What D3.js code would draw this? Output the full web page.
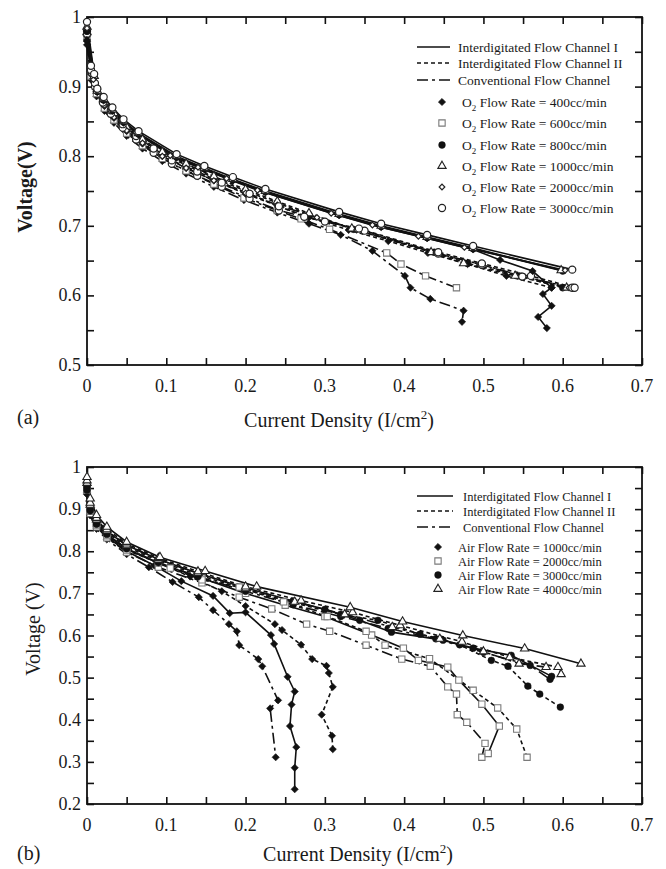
<!DOCTYPE html>
<html><head><meta charset="utf-8">
<script src="https://cdn.jsdelivr.net/npm/d3@7"></script>
<style>
html,body{margin:0;padding:0;background:#fff;}
svg{display:block;}
text{font-family:'Liberation Serif','Times New Roman',serif;fill:#1a1a1a;}
</style></head><body>
<svg id="chart" width="666" height="869"></svg>
<script>
// ---- tick labels ----
const xTickLabels = ["0","0.1","0.2","0.3","0.4","0.5","0.6","0.7"];
const yTickLabelsA = ["0.5","0.6","0.7","0.8","0.9","1"];
const yTickLabelsB = ["0.2","0.3","0.4","0.5","0.6","0.7","0.8","0.9","1"];

// ---- legend entries ----
const channels = ["Interdigitated Flow Channel I","Interdigitated Flow Channel II","Conventional Flow Channel"];
const o2Rates = [400, 600, 800, 1000, 2000, 3000];
const airRates = [1000, 2000, 3000, 4000];

// ---- (a) O2 cathode feed: [current density, voltage] ----
const a_I1_400  = [[0.000,0.967],[0.009,0.913],[0.013,0.892],[0.021,0.880],[0.032,0.865],[0.046,0.848],[0.065,0.831],[0.113,0.798],[0.148,0.781],[0.184,0.765],[0.225,0.748],[0.318,0.715],[0.371,0.698],[0.429,0.682],[0.487,0.666],[0.521,0.651],[0.562,0.635],[0.586,0.611],[0.575,0.602],[0.586,0.585],[0.569,0.569],[0.580,0.553]];
const a_I1_800  = [[0.000,0.980],[0.009,0.914],[0.013,0.893],[0.021,0.881],[0.032,0.866],[0.046,0.849],[0.065,0.832],[0.113,0.799],[0.148,0.782],[0.184,0.766],[0.225,0.749],[0.318,0.716],[0.371,0.699],[0.429,0.683],[0.487,0.667],[0.600,0.635]];
const a_I1_1000 = [[0.000,0.986],[0.009,0.915],[0.013,0.894],[0.021,0.882],[0.032,0.867],[0.046,0.850],[0.065,0.833],[0.113,0.800],[0.148,0.783],[0.184,0.767],[0.225,0.750],[0.318,0.717],[0.371,0.700],[0.429,0.684],[0.487,0.668],[0.598,0.636]];
const a_I1_2000 = [[0.000,0.984],[0.008,0.910],[0.012,0.895],[0.019,0.883],[0.030,0.868],[0.044,0.851],[0.062,0.834],[0.105,0.801],[0.140,0.784],[0.176,0.768],[0.215,0.751],[0.308,0.718],[0.360,0.701],[0.418,0.685],[0.476,0.669],[0.603,0.636]];
const a_I1_3000 = [[0.000,0.993],[0.009,0.918],[0.013,0.897],[0.021,0.885],[0.032,0.870],[0.046,0.853],[0.065,0.836],[0.113,0.803],[0.148,0.786],[0.184,0.770],[0.225,0.753],[0.318,0.720],[0.371,0.703],[0.429,0.687],[0.487,0.671],[0.612,0.637]];
const a_I2_400  = [[0.000,0.965],[0.005,0.918],[0.012,0.893],[0.022,0.872],[0.034,0.855],[0.050,0.836],[0.070,0.818],[0.095,0.800],[0.125,0.783],[0.160,0.765],[0.200,0.746],[0.240,0.729],[0.280,0.712],[0.330,0.694],[0.380,0.678],[0.430,0.661],[0.480,0.645],[0.529,0.628],[0.586,0.611]];
const a_I2_800  = [[0.000,0.975],[0.005,0.922],[0.012,0.897],[0.022,0.876],[0.034,0.859],[0.050,0.840],[0.070,0.822],[0.095,0.804],[0.125,0.787],[0.160,0.769],[0.200,0.750],[0.240,0.733],[0.280,0.716],[0.336,0.695],[0.438,0.662],[0.480,0.646],[0.545,0.628],[0.600,0.611]];
const a_I2_1000 = [[0.000,0.978],[0.005,0.926],[0.012,0.900],[0.022,0.878],[0.034,0.862],[0.050,0.842],[0.070,0.824],[0.095,0.806],[0.125,0.789],[0.160,0.771],[0.200,0.752],[0.240,0.735],[0.280,0.718],[0.334,0.696],[0.434,0.662],[0.475,0.646],[0.540,0.628],[0.605,0.611]];
const a_I2_3000 = [[0.000,0.980],[0.005,0.930],[0.010,0.905],[0.020,0.882],[0.030,0.866],[0.045,0.846],[0.062,0.829],[0.084,0.811],[0.107,0.794],[0.139,0.778],[0.170,0.762],[0.205,0.746],[0.242,0.728],[0.274,0.713],[0.343,0.696],[0.443,0.662],[0.498,0.646],[0.560,0.628],[0.615,0.611]];
const a_C_400   = [[0.000,0.960],[0.005,0.910],[0.012,0.886],[0.022,0.865],[0.034,0.848],[0.050,0.829],[0.070,0.811],[0.095,0.793],[0.125,0.775],[0.160,0.756],[0.198,0.737],[0.240,0.719],[0.280,0.703],[0.320,0.687],[0.360,0.664],[0.401,0.628],[0.408,0.611],[0.433,0.595],[0.475,0.578],[0.473,0.562]];
const a_C_600   = [[0.000,0.970],[0.005,0.915],[0.012,0.890],[0.022,0.869],[0.034,0.852],[0.050,0.833],[0.070,0.815],[0.095,0.797],[0.125,0.779],[0.160,0.760],[0.198,0.740],[0.240,0.722],[0.270,0.710],[0.306,0.695],[0.378,0.661],[0.396,0.645],[0.427,0.628],[0.466,0.611]];
const a_C_2000  = [[0.000,0.972],[0.005,0.918],[0.012,0.894],[0.022,0.873],[0.034,0.856],[0.050,0.837],[0.070,0.819],[0.095,0.800],[0.125,0.783],[0.160,0.765],[0.200,0.747],[0.240,0.730],[0.290,0.712],[0.340,0.694],[0.440,0.661],[0.495,0.645],[0.552,0.627],[0.608,0.611]];
const a_C_3000  = [[0.000,0.976],[0.005,0.924],[0.010,0.900],[0.020,0.877],[0.030,0.861],[0.045,0.841],[0.062,0.824],[0.084,0.805],[0.107,0.789],[0.139,0.772],[0.170,0.756],[0.205,0.739],[0.242,0.722],[0.300,0.706],[0.350,0.693],[0.443,0.660],[0.498,0.644],[0.549,0.627],[0.612,0.611]];

// ---- (b) air cathode feed: [current density, voltage] ----
const b_I1_1000 = [[0.000,0.938],[0.004,0.888],[0.012,0.858],[0.025,0.834],[0.050,0.800],[0.085,0.766],[0.119,0.729],[0.159,0.694],[0.180,0.653],[0.200,0.655],[0.232,0.601],[0.236,0.580],[0.253,0.502],[0.262,0.467],[0.258,0.436],[0.256,0.385],[0.264,0.335],[0.262,0.286],[0.262,0.235]];
const b_I2_1000 = [[0.000,0.940],[0.004,0.892],[0.012,0.862],[0.025,0.838],[0.050,0.805],[0.090,0.772],[0.130,0.740],[0.170,0.705],[0.200,0.670],[0.237,0.627],[0.246,0.613],[0.270,0.578],[0.284,0.544],[0.302,0.528],[0.305,0.511],[0.310,0.478],[0.296,0.412],[0.309,0.362],[0.310,0.330]];
const b_C_1000  = [[0.000,0.935],[0.004,0.885],[0.012,0.853],[0.025,0.828],[0.050,0.793],[0.078,0.762],[0.108,0.727],[0.141,0.691],[0.159,0.660],[0.179,0.627],[0.189,0.610],[0.192,0.577],[0.216,0.544],[0.221,0.527],[0.241,0.446],[0.231,0.427],[0.238,0.311]];
const b_I1_2000 = [[0.000,0.950],[0.004,0.898],[0.012,0.865],[0.025,0.840],[0.050,0.806],[0.090,0.772],[0.145,0.736],[0.200,0.700],[0.250,0.672],[0.300,0.645],[0.359,0.601],[0.399,0.570],[0.418,0.541],[0.455,0.525],[0.469,0.494],[0.498,0.437],[0.520,0.385],[0.506,0.320]];
const b_I2_2000 = [[0.000,0.948],[0.004,0.895],[0.012,0.862],[0.025,0.837],[0.050,0.803],[0.105,0.760],[0.145,0.732],[0.192,0.715],[0.248,0.680],[0.303,0.645],[0.352,0.610],[0.376,0.577],[0.432,0.545],[0.487,0.470],[0.518,0.428],[0.542,0.378],[0.555,0.311]];
const b_C_2000  = [[0.000,0.945],[0.004,0.890],[0.012,0.858],[0.025,0.832],[0.050,0.798],[0.090,0.762],[0.145,0.725],[0.192,0.691],[0.233,0.663],[0.277,0.627],[0.306,0.610],[0.352,0.577],[0.397,0.544],[0.433,0.527],[0.455,0.478],[0.466,0.461],[0.467,0.412],[0.479,0.394],[0.502,0.344],[0.498,0.311]];
const b_I1_3000 = [[0.000,0.955],[0.004,0.905],[0.012,0.872],[0.025,0.847],[0.050,0.814],[0.090,0.781],[0.140,0.748],[0.200,0.713],[0.260,0.682],[0.300,0.662],[0.344,0.636],[0.384,0.608],[0.449,0.589],[0.487,0.570],[0.535,0.553],[0.586,0.503]];
const b_I2_3000 = [[0.000,0.950],[0.004,0.900],[0.012,0.868],[0.025,0.844],[0.050,0.810],[0.090,0.777],[0.140,0.744],[0.200,0.709],[0.260,0.678],[0.320,0.650],[0.367,0.636],[0.420,0.603],[0.470,0.578],[0.510,0.541],[0.531,0.527],[0.556,0.480],[0.571,0.461],[0.597,0.430]];
const b_C_3000  = [[0.000,0.945],[0.004,0.896],[0.012,0.864],[0.025,0.840],[0.050,0.806],[0.090,0.773],[0.140,0.740],[0.200,0.705],[0.260,0.673],[0.320,0.645],[0.380,0.617],[0.440,0.592],[0.500,0.560],[0.559,0.529],[0.584,0.496]];
const b_I1_4000 = [[0.000,0.976],[0.004,0.925],[0.012,0.886],[0.025,0.858],[0.050,0.822],[0.092,0.786],[0.149,0.753],[0.214,0.716],[0.332,0.667],[0.398,0.633],[0.474,0.600],[0.552,0.569],[0.623,0.533]];
const b_I2_4000 = [[0.000,0.968],[0.004,0.915],[0.012,0.879],[0.025,0.852],[0.050,0.818],[0.090,0.784],[0.140,0.752],[0.200,0.716],[0.270,0.683],[0.335,0.655],[0.395,0.624],[0.473,0.585],[0.533,0.548],[0.594,0.525],[0.598,0.508]];
const b_C_4000  = [[0.000,0.962],[0.004,0.910],[0.012,0.875],[0.025,0.849],[0.050,0.814],[0.090,0.780],[0.140,0.748],[0.200,0.712],[0.262,0.680],[0.325,0.650],[0.385,0.620],[0.445,0.592],[0.500,0.562],[0.545,0.533],[0.579,0.525]];

// series lists: channel index, flow rate, points (draw order: last on top)
const seriesA = [
  {ch:2, rate:400,  pts:a_C_400},
  {ch:2, rate:600,  pts:a_C_600},
  {ch:1, rate:400,  pts:a_I2_400},
  {ch:1, rate:800,  pts:a_I2_800},
  {ch:1, rate:1000, pts:a_I2_1000},
  {ch:2, rate:2000, pts:a_C_2000},
  {ch:2, rate:3000, pts:a_C_3000},
  {ch:1, rate:3000, pts:a_I2_3000},
  {ch:0, rate:400,  pts:a_I1_400},
  {ch:0, rate:800,  pts:a_I1_800},
  {ch:0, rate:1000, pts:a_I1_1000},
  {ch:0, rate:2000, pts:a_I1_2000},
  {ch:0, rate:3000, pts:a_I1_3000}
];
const seriesB = [
  {ch:2, rate:1000, pts:b_C_1000},
  {ch:0, rate:1000, pts:b_I1_1000},
  {ch:1, rate:1000, pts:b_I2_1000},
  {ch:2, rate:2000, pts:b_C_2000},
  {ch:0, rate:2000, pts:b_I1_2000},
  {ch:1, rate:2000, pts:b_I2_2000},
  {ch:2, rate:3000, pts:b_C_3000},
  {ch:1, rate:3000, pts:b_I2_3000},
  {ch:0, rate:3000, pts:b_I1_3000},
  {ch:2, rate:4000, pts:b_C_4000},
  {ch:1, rate:4000, pts:b_I2_4000},
  {ch:0, rate:4000, pts:b_I1_4000}
];

// ---- styles ----
const dashByChannel = [null, "4,3", "11,4,3,4"];
const markerStyles = {
  diamondF: {type:d3.symbolSquare,   size:26, rot:45, fill:"#111", stroke:"#111", sw:0.6},
  square:   {type:d3.symbolSquare,   size:40, rot:0,  fill:"#fff", stroke:"#7a7a7a", sw:1.1},
  circleF:  {type:d3.symbolCircle,   size:36, rot:0,  fill:"#111", stroke:"#111", sw:0.5},
  triangle: {type:d3.symbolTriangle, size:30, rot:0,  fill:"#fff", stroke:"#222", sw:1.1},
  diamondO: {type:d3.symbolSquare,   size:16, rot:45, fill:"#fff", stroke:"#222", sw:1.2},
  circleO:  {type:d3.symbolCircle,   size:40, rot:0,  fill:"#fff", stroke:"#222", sw:1.2}
};
const markerA = {400:"diamondF", 600:"square", 800:"circleF", 1000:"triangle", 2000:"diamondO", 3000:"circleO"};
const markerB = {1000:"diamondF", 2000:"square", 3000:"circleF", 4000:"triangle"};

const svg = d3.select("#chart");
const L = 87, R = 642;

function drawMarker(g, key, cx, cy) {
  const m = markerStyles[key];
  g.append("path")
    .attr("d", d3.symbol().type(m.type).size(m.size)())
    .attr("transform", `translate(${cx},${cy}) rotate(${m.rot})`)
    .attr("fill", m.fill).attr("stroke", m.stroke).attr("stroke-width", m.sw);
}

function drawPanel(opt) {
  const x = d3.scaleLinear().domain([0, 0.7]).range([L, R]);
  const y = d3.scaleLinear().domain([opt.yMin, 1]).range([opt.bottom, opt.top]);
  const g = svg.append("g");

  const xt = d3.range(0, 0.7001, 0.05);
  const yt = d3.range(opt.yMin, 1.0001, 0.05);

  // ticks on all four sides, pointing inward
  g.append("g").attr("transform", `translate(0,${opt.bottom})`)
    .call(d3.axisBottom(x).tickValues(xt).tickSizeInner(-7).tickSizeOuter(0).tickFormat(""));
  g.append("g").attr("transform", `translate(0,${opt.top})`)
    .call(d3.axisTop(x).tickValues(xt).tickSizeInner(-7).tickSizeOuter(0).tickFormat(""));
  g.append("g").attr("transform", `translate(${L},0)`)
    .call(d3.axisLeft(y).tickValues(yt).tickSizeInner(-7).tickSizeOuter(0).tickFormat(""));
  g.append("g").attr("transform", `translate(${R},0)`)
    .call(d3.axisRight(y).tickValues(yt).tickSizeInner(-7).tickSizeOuter(0).tickFormat(""));
  g.selectAll(".domain").remove();
  g.selectAll(".tick line").attr("stroke", "#111").attr("stroke-width", 1.6);

  g.append("rect").attr("x", L).attr("y", opt.top)
    .attr("width", R - L).attr("height", opt.bottom - opt.top)
    .attr("fill", "none").attr("stroke", "#111").attr("stroke-width", 1.8);

  // tick labels
  g.selectAll(".xl").data(xTickLabels).enter().append("text")
    .attr("x", d => x(+d)).attr("y", opt.bottom + 27)
    .attr("text-anchor", "middle").attr("font-size", 18).text(d => d);
  g.selectAll(".yl").data(opt.yLabels).enter().append("text")
    .attr("x", L - 6).attr("y", d => y(+d) + 6)
    .attr("text-anchor", "end").attr("font-size", 18).text(d => d);

  // curves
  const line = d3.line().x(d => x(d[0])).y(d => y(d[1]));
  const plot = g.append("g");
  opt.series.forEach(s => {
    plot.append("path").datum(s.pts).attr("d", line)
      .attr("fill", "none").attr("stroke", "#111").attr("stroke-width", 1.6)
      .attr("stroke-dasharray", dashByChannel[s.ch]);
  });
  opt.series.forEach(s => {
    s.pts.forEach(p => drawMarker(plot, opt.markers[s.rate], x(p[0]), y(p[1])));
  });

  // axis titles
  const xt2 = g.append("text").attr("x", opt.xTitleX).attr("y", opt.xTitleY)
    .attr("text-anchor", "middle").attr("font-size", 20);
  xt2.append("tspan").text("Current Density (I/cm");
  xt2.append("tspan").attr("font-size", 13).attr("dy", -8).text("2");
  xt2.append("tspan").attr("dy", 8).text(")");

  g.append("text").attr("transform", `translate(${opt.yTitleX},${opt.yTitleY}) rotate(-90)`)
    .attr("text-anchor", "middle").attr("font-size", 20)
    .attr("font-weight", opt.yTitleBold ? "bold" : "normal").text(opt.yTitle);

  g.append("text").attr("x", 17).attr("y", opt.tagY).attr("font-size", 20).text(opt.tag);

  // legend: channel line styles
  const lg = g.append("g");
  channels.forEach((c, i) => {
    const yy = opt.legLineY[i];
    lg.append("line").attr("x1", 417).attr("x2", opt.legLineX2).attr("y1", yy).attr("y2", yy)
      .attr("stroke", "#111").attr("stroke-width", 1.3).attr("stroke-dasharray", dashByChannel[i]);
    lg.append("text").attr("x", opt.legLineText).attr("y", yy + 4.5)
      .attr("font-size", opt.legFont).text(c);
  });
  // legend: flow rate markers
  opt.rates.forEach((r, i) => {
    const yy = opt.legMarkY[i];
    drawMarker(lg, opt.markers[r], opt.legMarkX, yy);
    const t = lg.append("text").attr("x", opt.legMarkText).attr("y", yy + 4.5).attr("font-size", opt.legFont);
    if (opt.o2) {
      t.append("tspan").text("O");
      t.append("tspan").attr("font-size", 9).attr("dy", 4).text("2");
      t.append("tspan").attr("dy", -4).text(` Flow Rate = ${r}cc/min`);
    } else {
      t.text(`Air Flow Rate = ${r}cc/min`);
    }
  });
}

drawPanel({
  top: 17, bottom: 365, yMin: 0.5, yLabels: yTickLabelsA, series: seriesA, markers: markerA,
  xTitleX: 339, xTitleY: 427, yTitle: "Voltage(V)", yTitleX: 32, yTitleY: 187, yTitleBold: true,
  tag: "(a)", tagY: 424,
  legLineY: [47, 63, 80], legLineX2: 450, legLineText: 458, legFont: 13.5,
  rates: o2Rates, legMarkY: [102, 123, 145, 166, 187, 208], legMarkX: 442, legMarkText: 462, o2: true
});
drawPanel({
  top: 467, bottom: 804, yMin: 0.2, yLabels: yTickLabelsB, series: seriesB, markers: markerB,
  xTitleX: 358, xTitleY: 861, yTitle: "Voltage (V)", yTitleX: 40, yTitleY: 629, yTitleBold: false,
  tag: "(b)", tagY: 860,
  legLineY: [496, 511, 527], legLineX2: 453, legLineText: 463, legFont: 12.5,
  rates: airRates, legMarkY: [547, 561, 575, 589], legMarkX: 438, legMarkText: 458, o2: false
});
</script>
</body></html>
